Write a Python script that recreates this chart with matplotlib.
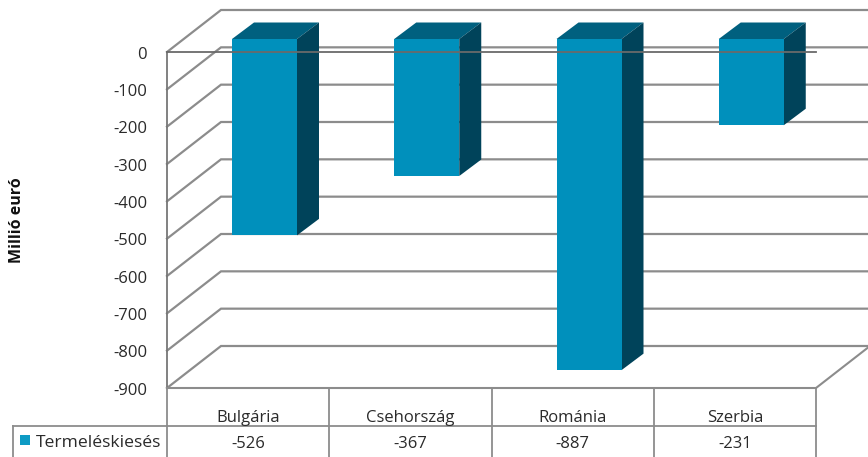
import matplotlib
matplotlib.use('Agg')
import matplotlib.pyplot as plt

# adatok
orszagok = ['Bulgária', 'Csehország', 'Románia', 'Szerbia']
ertekek = [-526, -367, -887, -231]
tengely = [0, -100, -200, -300, -400, -500, -600, -700, -800, -900]

plt.rcParams['font.family'] = ['Open Sans', 'DejaVu Sans']

W, H = 868, 457
fig = plt.figure(figsize=(W / 100, H / 100), dpi=100)
ax = fig.add_axes([0, 0, 1, 1])
ax.axis('off')

# pixel -> adat skála: egy kategória 162.25 px, 100 egység 37.33 px
px_x = 162.25
px_y = 336 / 900
ax.set_xlim(-167 / px_x, (W - 167) / px_x)
ax.set_ylim(-(H - 52) / px_y, 52 / px_y)

# térhatás eltolása
melyseg_x = 54 / px_x
melyseg_y = 42 / px_y
szurke = '#8c8c8c'
betu = '#2a2a2a'
meret = 12

# hátsó fal + bal oldali fal
for t in tengely:
    ax.plot([0, melyseg_x, 4 + melyseg_x], [t, t + melyseg_y, t + melyseg_y],
            color=szurke, lw=1.6, solid_joinstyle='miter', zorder=1)
ax.plot([0, 0], [0, -900], color='#777777', lw=1.3, zorder=1)

# padló eleje
ax.plot([0, 4, 4 + melyseg_x], [-900, -900, -900 + melyseg_y], color=szurke, lw=1.5, zorder=1)

# oszlopok
bal = 65 / px_x
szel = 65 / px_x
dy1 = 13 / px_y
dx2 = 22 / px_x
dy2 = 16.5 / px_y
for i, v in enumerate(ertekek):
    x0 = i + bal
    x1 = x0 + szel
    y0 = dy1
    y1 = v + dy1
    ax.fill([x0, x1, x1, x0], [y0, y0, y1, y1], color='#0090bc', lw=0, zorder=4)
    ax.fill([x0, x1, x1 + dx2, x0 + dx2], [y0, y0, y0 + dy2, y0 + dy2], color='#00607f', lw=0, zorder=3)
    ax.fill([x1, x1 + dx2, x1 + dx2, x1], [y0, y0 + dy2, y1 + dy2, y1], color='#00435a', lw=0, zorder=3)

# a nulla vonal az oszlopokon is átmegy
ax.plot([0, 4], [0, 0], color='#6a6a6a', lw=1.3, zorder=5)

# tengelyfeliratok
for t in tengely:
    ax.text(-20 / px_x, t - 6.8 / px_y, str(t), ha='right', va='baseline', fontsize=meret, color=betu)
ax.text(-150 / px_x, -(220 - 52) / px_y, 'Millió euró', rotation=90, ha='center', va='center',
        fontsize=11.5, fontweight='bold', color='#111111')

# táblázat
sor1 = -(426 - 52) / px_y
also = -(H - 52) / px_y
bal_szel = -154 / px_x
ax.plot([0, 4], [sor1, sor1], color=szurke, lw=1.3)
ax.plot([bal_szel, 0], [sor1, sor1], color=szurke, lw=1.3)
ax.plot([bal_szel, bal_szel], [sor1, also], color=szurke, lw=1.3)
for i in range(5):
    ax.plot([i, i], [-900, also], color=szurke, lw=1.3)
for i, (o, v) in enumerate(zip(orszagok, ertekek)):
    ax.text(i + 0.5, -(421.7 - 52) / px_y, o, ha='center', va='baseline', fontsize=meret, color=betu)
    ax.text(i + 0.5, -(448 - 52) / px_y, str(v), ha='center', va='baseline', fontsize=meret, color=betu)

# jelmagyarázat
ax.fill([-147 / px_x, -137 / px_x, -137 / px_x, -147 / px_x],
        [-(435 - 52) / px_y, -(435 - 52) / px_y, -(445 - 52) / px_y, -(445 - 52) / px_y],
        color='#0e9bc4', lw=0)
ax.text(-131 / px_x, -(447 - 52) / px_y, 'Termeléskiesés', ha='left', va='baseline', fontsize=12.6, color=betu)

fig.savefig('out.png', dpi=100)
